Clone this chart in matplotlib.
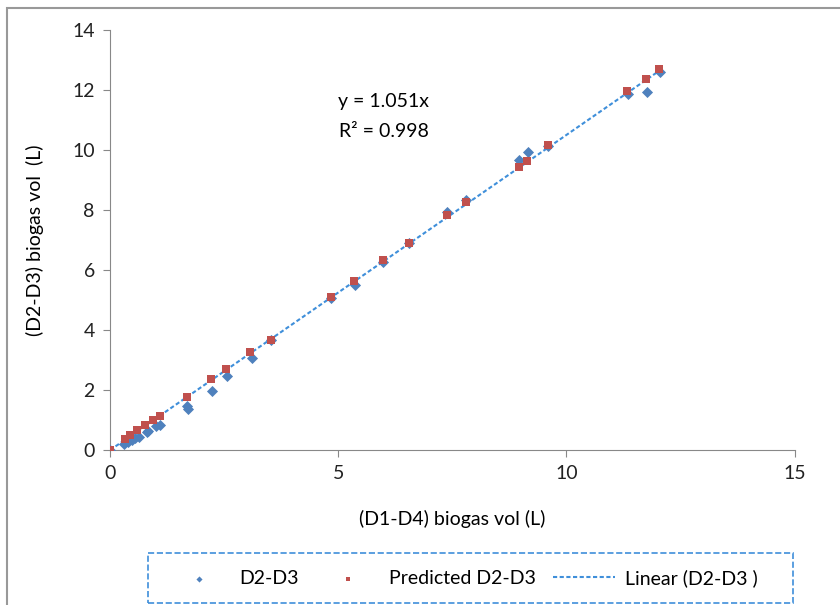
import matplotlib
matplotlib.use("Agg")
import matplotlib.pyplot as plt
import numpy as np
from matplotlib.patches import Rectangle

plt.rcParams['font.family'] = ['Lato', 'DejaVu Sans']

# measured (D1-D4) volumes against measured and predicted (D2-D3)
x_meas = [0.0, 0.3, 0.39, 0.48, 0.55, 0.64, 0.8, 0.83, 1.0, 1.09,
          1.69, 1.71, 2.23, 2.56, 3.11, 3.53, 4.84, 5.36, 5.98, 6.55,
          7.38, 7.8, 8.96, 9.15, 9.6, 11.34, 11.76, 12.04]
y_meas = [0.0, 0.22, 0.27, 0.33, 0.4, 0.45, 0.6, 0.65, 0.82, 0.85,
          1.47, 1.37, 1.97, 2.47, 3.07, 3.67, 5.07, 5.5, 6.27, 6.9,
          7.93, 8.33, 9.67, 9.93, 10.15, 11.87, 11.93, 12.6]

x_pred = [0.0, 0.33, 0.44, 0.59, 0.77, 0.94, 1.09, 1.69, 2.21, 2.54,
          3.07, 3.53, 4.84, 5.34, 5.98, 6.55, 7.38, 7.8, 8.96, 9.13,
          9.59, 11.32, 11.74, 12.02]
y_pred = [0.0, 0.37, 0.5, 0.67, 0.83, 1.0, 1.13, 1.77, 2.37, 2.7,
          3.27, 3.67, 5.1, 5.63, 6.33, 6.9, 7.83, 8.27, 9.43, 9.63,
          10.17, 11.97, 12.37, 12.7]

slope = 1.051
r2 = 0.998

fs = 14

fig = plt.figure(figsize=(8.4, 6.05), dpi=100)
ax = fig.add_axes([0.131, 0.256, 0.815, 0.694])

xs = np.array([0.0, max(x_meas)])
ax.plot(xs, slope * xs, color='#3f8fda', lw=1.5, ls=(0, (2, 1.2)),
        label='Linear (D2-D3 )', zorder=3)
ax.scatter(x_meas, y_meas, marker='D', s=32, color='#4F81BD',
           label='D2-D3', zorder=4, linewidths=0)
ax.scatter(x_pred, y_pred, marker='s', s=40, color='#C0504D',
           label='Predicted D2-D3', zorder=5, linewidths=0)

ax.set_xlim(0, 15)
ax.set_ylim(0, 14)
ax.set_xticks([0, 5, 10, 15])
ax.set_yticks(range(0, 15, 2))
for side in ['top', 'right']:
    ax.spines[side].set_visible(False)
for side in ['left', 'bottom']:
    ax.spines[side].set_color('#888888')
ax.tick_params(colors='#888888', labelcolor='#222222', labelsize=fs,
               length=5, direction='out', pad=6)
ax.set_xlabel('(D1-D4) biogas vol (L)', fontsize=fs, labelpad=20)
ax.set_ylabel('(D2-D3) biogas vol  (L)', fontsize=fs, labelpad=20)

ax.text(6.0, 11.63, 'y = %.3fx' % slope, ha='center', va='center',
        fontsize=fs)
ax.text(6.0, 10.63, 'R² = %.3f' % r2, ha='center', va='center',
        fontsize=fs)

# outer chart border
fig.patches.append(Rectangle((7 / 840, -0.1), 1.2, 1 - 8 / 605 + 0.1,
                             transform=fig.transFigure, fill=False,
                             edgecolor='#999999', lw=1.5))

# legend box drawn on its own, entries laid out inside it
fig.patches.append(Rectangle((148 / 840, 2 / 605), 645 / 840, 50 / 605,
                             transform=fig.transFigure, fill=False,
                             edgecolor='#3f8fda', lw=1.2, ls='--'))

handles, labels = ax.get_legend_handles_labels()
order = [1, 2, 0]
leg = fig.legend([handles[i] for i in order], [labels[i] for i in order],
                 loc='center left', ncol=3,
                 bbox_to_anchor=(160 / 840, 27 / 605),
                 fontsize=fs, frameon=False, handlelength=3.2,
                 handletextpad=0.5, columnspacing=0.9,
                 markerscale=0.55, borderaxespad=0)

fig.savefig('out.png', dpi=100)
